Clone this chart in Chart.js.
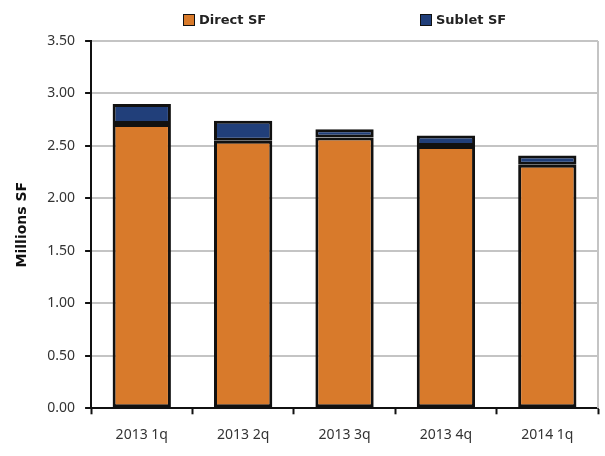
<!DOCTYPE html>
<html lang="en">
  <head>
    <meta charset="UTF-8">
    <title>Vacant space - Direct vs Sublet</title>
    <script src="https://cdn.jsdelivr.net/npm/chart.js"></script>
    <style>
      body { margin: 0; background: #fff; }
      .wrap { position: relative; width: 605px; height: 456px; }
      #legend {
        position: absolute; top: 12px; left: 0; width: 605px; height: 20px;
        font: bold 13px "DejaVu Sans", sans-serif; color: #222;
      }
      #legend .item { position: absolute; top: 0; display: flex; align-items: center; }
      #legend .box { width: 10px; height: 10px; border: 1.5px solid #111; margin-right: 4px; }
    </style>
  </head>
  <body>
    <div class="wrap">
      <div id="legend"></div>
      <canvas id="myChart" width="605" height="456"></canvas>
    </div>

    <script>
      const categories = ['2013 1q', '2013 2q', '2013 3q', '2013 4q', '2014 1q'];
      const directSF = [2.71, 2.55, 2.58, 2.50, 2.32];
      const subletSF = [0.19, 0.19, 0.08, 0.10, 0.09];
      const yTicks = { min: 0, max: 3.5, step: 0.5 };

      const ORANGE = '#d87a2b';
      const NAVY = '#213f7a';
      const tickFont = { family: '"Noto Sans", sans-serif', size: 14 };

      // grey frame line on the right side of the plot
      const rightEdge = {
        id: 'rightEdge',
        beforeDatasetsDraw(chart) {
          const { ctx, chartArea } = chart;
          ctx.save();
          ctx.strokeStyle = '#c4c4c4';
          ctx.lineWidth = 2;
          ctx.beginPath();
          ctx.moveTo(chartArea.right, chartArea.top);
          ctx.lineTo(chartArea.right, chartArea.bottom);
          ctx.stroke();
          ctx.restore();
        }
      };

      const barStyle = {
        borderColor: '#111',
        borderWidth: 3,
        borderSkipped: false,
        inflateAmount: 0,
        categoryPercentage: 1,
        barPercentage: 0.575
      };

      const chart = new Chart(document.getElementById('myChart'), {
        type: 'bar',
        data: {
          labels: categories,
          datasets: [
            { label: 'Direct SF', data: directSF, backgroundColor: ORANGE, ...barStyle },
            { label: 'Sublet SF', data: subletSF, backgroundColor: NAVY, ...barStyle }
          ]
        },
        options: {
          responsive: false,
          animation: false,
          layout: { padding: { top: 41, left: 13.5, right: 7, bottom: 0 } },
          plugins: {
            legend: { display: false },
            tooltip: { enabled: false }
          },
          scales: {
            x: {
              stacked: true,
              grid: { display: true, drawOnChartArea: false, offset: true, tickColor: '#111', tickLength: 6, tickWidth: 2 },
              border: { color: '#111', width: 2 },
              ticks: { color: '#333', font: { ...tickFont, lineHeight: 0.55 }, padding: 17 }
            },
            y: {
              stacked: true,
              min: yTicks.min,
              max: yTicks.max,
              grid: { color: '#c4c4c4', lineWidth: 2, tickColor: '#111', tickLength: 6, tickWidth: 2 },
              border: { color: '#111', width: 2 },
              ticks: {
                stepSize: yTicks.step,
                color: '#333',
                font: tickFont,
                padding: 10,
                callback: v => v.toFixed(2)
              },
              title: {
                display: true,
                text: 'Millions SF',
                color: '#111',
                font: { family: '"DejaVu Sans", sans-serif', size: 14, weight: 'bold' },
                padding: { top: 0, bottom: 7 }
              }
            }
          }
        },
        plugins: [rightEdge]
      });

      // legend row above the plot, built from the datasets
      const legendX = [183, 420];
      const legend = document.getElementById('legend');
      chart.data.datasets.forEach((ds, i) => {
        const item = document.createElement('div');
        item.className = 'item';
        item.style.left = legendX[i] + 'px';
        item.innerHTML = '<span class="box" style="background:' + ds.backgroundColor + '"></span>' + ds.label;
        legend.appendChild(item);
      });
    </script>
  </body>
</html>
